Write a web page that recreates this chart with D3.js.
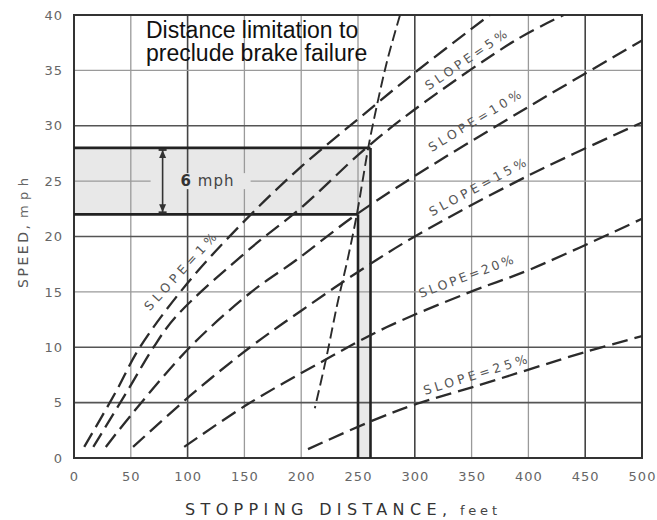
<!DOCTYPE html>
<html>
<head>
<meta charset="utf-8">
<script src="https://cdn.jsdelivr.net/npm/d3@7"></script>
<style>
  body { margin: 0; background: #fff; }
  svg { display: block; }
</style>
</head>
<body>
<script>
// chart values
var xTicks = [0, 50, 100, 150, 200, 250, 300, 350, 400, 450, 500];
var yTicks = [0, 5, 10, 15, 20, 25, 30, 35, 40];

var slopeNames = ["1%", "5%", "10%", "15%", "20%", "25%"];

// stopping distance (ft), speed (mph) pairs for each slope curve
var slope1  = [[9, 1], [37, 6], [58, 10], [100, 15.8], [151, 21.5], [200, 26.3], [250, 30.6], [300, 34.8], [366, 40]];
var slope5  = [[17, 1], [49, 6.4], [70, 10], [90, 12.8], [155, 18.9], [200, 22.6], [255, 27.8], [299, 31.4], [390, 37.8], [431, 40]];
var slope10 = [[28, 1], [52, 4.1], [102, 10], [155, 14.9], [196, 17.9], [246, 21.8], [299, 25.4], [400, 31.7], [500, 37.7]];
var slope15 = [[52, 1], [102, 5.6], [155, 10], [200, 13.3], [250, 16.8], [300, 20], [400, 25.5], [500, 30.3]];
var slope20 = [[97, 1], [152, 4.8], [220, 8.8], [275, 11.8], [349, 15], [401, 17], [500, 21.6]];
var slope25 = [[206, 0.8], [261, 3.3], [302, 4.9], [351, 6.4], [451, 9.6], [500, 11]];
var curves = [slope1, slope5, slope10, slope15, slope20, slope25];

// distance limitation line
var limitLine = [[287, 40], [276, 36], [267, 32], [259, 28], [254, 25], [249, 22], [241, 18], [232, 14], [222, 9], [212, 4.5]];

// shaded 6 mph band and distance band
var speedBand = [22, 28];
var distBand = [250, 261];
var arrowDist = 78;

var svgWidth = 657;
var svgHeight = 520;

var svg = d3.select("body")
  .append("svg")
  .attr("width", svgWidth)
  .attr("height", svgHeight);

svg.append("rect")
  .attr("width", svgWidth)
  .attr("height", svgHeight)
  .attr("fill", "#fff");

var x = d3.scaleLinear().domain([0, 500]).range([74, 642]);
var y = d3.scaleLinear().domain([0, 40]).range([458, 15]);

svg.append("clipPath").attr("id", "plot")
  .append("rect")
  .attr("x", x(0)).attr("y", y(40))
  .attr("width", x(500) - x(0)).attr("height", y(0) - y(40));

// shaded areas
var shade = [
  [0, speedBand[0]], [0, speedBand[1]], [distBand[1], speedBand[1]],
  [distBand[1], 0], [distBand[0], 0], [distBand[0], speedBand[0]]
];
svg.append("path")
  .attr("d", d3.line().x(function(d) { return x(d[0]); }).y(function(d) { return y(d[1]); })(shade) + "Z")
  .attr("fill", "#e8e8e8");

// grid
var heavyX = [100, 300, 450];
var heavyY = [5, 10, 20, 30];

svg.append("g").selectAll("line")
  .data(xTicks.slice(1, -1))
  .enter().append("line")
  .attr("x1", function(d) { return x(d); })
  .attr("x2", function(d) { return x(d); })
  .attr("y1", y(0)).attr("y2", y(40))
  .attr("stroke", function(d) { return heavyX.indexOf(d) >= 0 ? "#444" : "#9a9a9a"; })
  .attr("stroke-width", function(d) { return heavyX.indexOf(d) >= 0 ? 1.6 : 1.3; });

svg.append("g").selectAll("line")
  .data(yTicks.slice(1, -1))
  .enter().append("line")
  .attr("y1", function(d) { return y(d); })
  .attr("y2", function(d) { return y(d); })
  .attr("x1", x(0)).attr("x2", x(500))
  .attr("stroke", function(d) { return heavyY.indexOf(d) >= 0 ? "#555" : "#9a9a9a"; })
  .attr("stroke-width", function(d) { return heavyY.indexOf(d) >= 0 ? 1.6 : 1.3; });

// frame
svg.append("rect")
  .attr("x", x(0)).attr("y", y(40))
  .attr("width", x(500) - x(0)).attr("height", y(0) - y(40))
  .attr("fill", "none")
  .attr("stroke", "#333")
  .attr("stroke-width", 2);

// band edges
var thick = svg.append("g").attr("stroke", "#222").attr("stroke-width", 2.6);
thick.append("line")
  .attr("x1", x(0)).attr("x2", x(distBand[1]))
  .attr("y1", y(speedBand[1])).attr("y2", y(speedBand[1]));
thick.append("line")
  .attr("x1", x(0)).attr("x2", x(distBand[0]))
  .attr("y1", y(speedBand[0])).attr("y2", y(speedBand[0]));
thick.append("line")
  .attr("x1", x(distBand[0])).attr("x2", x(distBand[0]))
  .attr("y1", y(0)).attr("y2", y(speedBand[0]));
thick.append("line")
  .attr("x1", x(distBand[1])).attr("x2", x(distBand[1]))
  .attr("y1", y(0)).attr("y2", y(speedBand[1]));

// 6 mph marker
var mid = (speedBand[0] + speedBand[1]) / 2;
svg.append("rect")
  .attr("x", x(arrowDist) - 12).attr("y", y(mid) - 8)
  .attr("width", 100).attr("height", 16)
  .attr("fill", "#e8e8e8");

var arrow = svg.append("g").attr("stroke", "#333").attr("fill", "#333");
arrow.append("line")
  .attr("x1", x(arrowDist)).attr("x2", x(arrowDist))
  .attr("y1", y(speedBand[1]) + 2).attr("y2", y(speedBand[0]) - 2)
  .attr("stroke-width", 1.6);
[speedBand[1], speedBand[0]].forEach(function(v, i) {
  var yy = y(v), s = i == 0 ? 1 : -1;
  arrow.append("line")
    .attr("x1", x(arrowDist) - 4).attr("x2", x(arrowDist) + 4)
    .attr("y1", yy + s * 2).attr("y2", yy + s * 2)
    .attr("stroke-width", 2);
  arrow.append("path")
    .attr("d", "M" + (x(arrowDist) - 3.5) + "," + (yy + s * 10) +
      "L" + x(arrowDist) + "," + (yy + s * 2) +
      "L" + (x(arrowDist) + 3.5) + "," + (yy + s * 10) + "Z")
    .attr("stroke", "none");
});

svg.append("text")
  .attr("x", x(arrowDist) + 18)
  .attr("y", y(mid) + 5)
  .attr("font-family", "DejaVu Sans")
  .attr("font-size", 15)
  .attr("fill", "#444")
  .attr("letter-spacing", 1)
  .html('<tspan font-weight="bold" fill="#333">6</tspan> mph');

// slope curves
var line = d3.line()
  .x(function(d) { return x(d[0]); })
  .y(function(d) { return y(d[1]); })
  .curve(d3.curveCatmullRom.alpha(0.5));

var plot = svg.append("g").attr("clip-path", "url(#plot)");

plot.selectAll(".slope")
  .data(curves)
  .enter().append("path")
  .attr("class", "slope")
  .attr("d", line)
  .attr("fill", "none")
  .attr("stroke", "#2b2b2b")
  .attr("stroke-width", 2.3)
  .attr("stroke-dasharray", "16,7");

plot.append("path")
  .datum(limitLine)
  .attr("d", line)
  .attr("fill", "none")
  .attr("stroke", "#2b2b2b")
  .attr("stroke-width", 1.9)
  .attr("stroke-dasharray", "11,5");

// curve labels
function speedAt(pts, d) {
  for (var i = 1; i < pts.length; i++) {
    if (d <= pts[i][0]) {
      var t = (d - pts[i - 1][0]) / (pts[i][0] - pts[i - 1][0]);
      return pts[i - 1][1] + t * (pts[i][1] - pts[i - 1][1]);
    }
  }
  return pts[pts.length - 1][1];
}

var labelFt = [102, 351, 360, 361, 350, 356];
var labelOff = [13, 12, 16, 14, 16, 11];
var labelLen = [100, 96, 106, 108, 100, 108];

curves.forEach(function(pts, i) {
  var d0 = labelFt[i];
  var x0 = x(d0), y0 = y(speedAt(pts, d0));
  var x1 = x(d0 + 12), y1 = y(speedAt(pts, d0 + 12));
  var a = Math.atan2(y1 - y0, x1 - x0);
  var px = x0 + labelOff[i] * Math.sin(a);
  var py = y0 - labelOff[i] * Math.cos(a);
  svg.append("text")
    .attr("transform", "translate(" + px + "," + py + ") rotate(" + (a * 180 / Math.PI) + ")")
    .attr("text-anchor", "middle")
    .attr("dy", "0.35em")
    .attr("font-family", "DejaVu Sans")
    .attr("font-size", 12.5)
    .attr("fill", "#555")
    .attr("textLength", labelLen[i])
    .attr("lengthAdjust", "spacing")
    .text("SLOPE=" + slopeNames[i]);
});

// axes
var xAxis = svg.append("g")
  .attr("transform", "translate(0," + y(0) + ")")
  .call(d3.axisBottom(x).tickValues(xTicks).tickSize(0).tickPadding(14));
var yAxis = svg.append("g")
  .attr("transform", "translate(" + x(0) + ",0)")
  .call(d3.axisLeft(y).tickValues(yTicks).tickSize(0).tickPadding(11));

[xAxis, yAxis].forEach(function(g) {
  g.select(".domain").remove();
  g.selectAll("text")
    .attr("font-family", "DejaVu Sans")
    .attr("font-size", 13)
    .attr("letter-spacing", 1)
    .attr("fill", "#666");
});

// axis titles
svg.append("text")
  .attr("x", 185).attr("y", 515)
  .attr("font-family", "DejaVu Sans")
  .attr("font-size", 16)
  .attr("fill", "#333")
  .attr("textLength", 262)
  .attr("lengthAdjust", "spacing")
  .text("STOPPING DISTANCE,");
svg.append("text")
  .attr("x", 460).attr("y", 515)
  .attr("font-family", "DejaVu Sans")
  .attr("font-size", 13)
  .attr("fill", "#444")
  .attr("textLength", 37)
  .attr("lengthAdjust", "spacing")
  .text("feet");

svg.append("text")
  .attr("transform", "translate(28,288) rotate(-90)")
  .attr("font-family", "DejaVu Sans")
  .attr("font-size", 14)
  .attr("fill", "#555")
  .attr("textLength", 63)
  .attr("lengthAdjust", "spacing")
  .text("SPEED,");
svg.append("text")
  .attr("transform", "translate(28,218) rotate(-90)")
  .attr("font-family", "DejaVu Sans")
  .attr("font-size", 13)
  .attr("fill", "#666")
  .attr("textLength", 40)
  .attr("lengthAdjust", "spacing")
  .text("mph");

// annotation
var note = svg.append("text")
  .attr("font-family", "Liberation Sans")
  .attr("font-size", 23)
  .attr("fill", "#111");
note.append("tspan").attr("x", 146).attr("y", 37.5).text("Distance limitation to");
note.append("tspan").attr("x", 146).attr("y", 61).text("preclude brake failure");
</script>
</body>
</html>
